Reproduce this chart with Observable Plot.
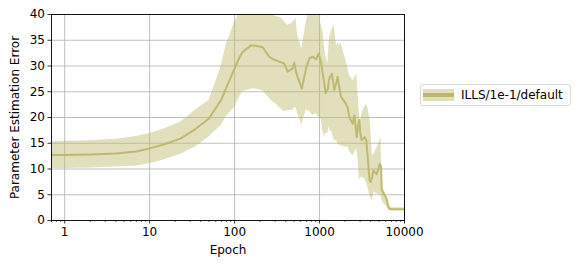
<!DOCTYPE html>
<html>
<head>
<meta charset="utf-8">
<script src="https://cdn.jsdelivr.net/npm/d3@7"></script>
<script src="https://cdn.jsdelivr.net/npm/@observablehq/plot@0.6"></script>
<style>
  html, body { margin: 0; padding: 0; background: #fff; }
  #wrap { position: relative; width: 582px; height: 267px; font-family: "DejaVu Sans", sans-serif; }
  #legend { position: absolute; left: 420px; top: 84px; width: 151px; height: 22px; border: 1px solid #d8d8d8; border-radius: 3px; background: #fff; box-sizing: border-box; }
  #legend .sw { position: absolute; left: 2px; top: 4px; width: 31px; height: 12px; }
  #legend .txt { position: absolute; left: 40px; top: 2px; font-size: 12px; line-height: 16px; color: #000; white-space: nowrap; }
</style>
</head>
<body>
<div id="wrap">
  <div id="chart"></div>
  <div id="legend"><svg class="sw" width="31" height="12"></svg><span class="txt"></span></div>
</div>
<script>
const seriesName = "ILLS/1e-1/default";
const xLabel = "Epoch";
const yLabel = "Parameter Estimation Error";
const xMajorTicks = [1, 10, 100, 1000, 10000];
const yTicks = [0, 5, 10, 15, 20, 25, 30, 35, 40];

const epoch = [0.7, 1, 2, 4, 7, 10, 15, 23, 35, 50, 70, 79, 100, 113, 124, 156, 170, 213, 256, 280, 307, 367, 384, 420, 480, 505, 527, 551, 619, 693, 760, 830, 907, 979, 1050, 1090, 1140, 1180, 1250, 1290, 1320, 1400, 1490, 1590, 1630, 1700, 1790, 2040, 2150, 2240, 2460, 2570, 2740, 2850, 2940, 3020, 3130, 3380, 3550, 3700, 3880, 3980, 4170, 4300, 4400, 4700, 5130, 5300, 5400, 5750, 6060, 6400, 6600, 7000, 10000];
const meanErr = [12.7, 12.7, 12.8, 13.0, 13.4, 14.0, 14.8, 15.9, 17.8, 19.8, 23.5, 25.6, 29.5, 31.5, 32.7, 34.0, 34.0, 33.7, 31.8, 31.4, 31.1, 30.6, 30.5, 28.9, 29.5, 30.6, 29.0, 27.9, 25.6, 29.5, 31.5, 31.8, 31.3, 32.4, 30.5, 28.5, 26.5, 24.7, 25.5, 27.2, 27.8, 28.5, 25.3, 27.0, 27.9, 26.0, 24.0, 22.7, 21.8, 20.1, 18.8, 20.4, 16.2, 18.5, 19.5, 17.0, 15.6, 16.2, 15.6, 12.0, 7.8, 7.5, 8.5, 9.7, 9.5, 9.0, 11.0, 10.5, 6.0, 5.0, 4.5, 3.0, 2.3, 2.2, 2.2];
const upperErr = [15.3, 15.4, 15.5, 15.8, 16.3, 16.9, 17.8, 19.1, 21.5, 23.3, 30.0, 34.0, 38.5, 40.2, 42, 42.5, 42.5, 42.5, 41.5, 39.9, 39.6, 39.2, 38.6, 37.9, 38.3, 38.8, 39.2, 36.0, 33.4, 38.3, 41, 42, 42, 41, 37.6, 37.0, 34, 32, 30.5, 34, 35.7, 37, 37.9, 33.7, 34.5, 34.0, 34.4, 31.1, 29.5, 28.2, 27.2, 27.5, 28.5, 24.0, 21, 18.8, 20.5, 22.0, 22.5, 22.0, 20, 18.8, 13, 12.5, 13, 14, 15.5, 16.2, 6.5, 5.8, 5.2, 3.5, 2.6, 2.5, 2.5];
const lowerErr = [10.1, 10.1, 10.2, 10.4, 10.6, 11.0, 11.8, 12.8, 14.3, 16.2, 18.5, 20.1, 22.0, 23.8, 25.0, 25.5, 25.6, 25.2, 23.8, 23.0, 22.6, 21.4, 21.1, 21.3, 21.4, 21.8, 22.0, 20.8, 18.5, 21.4, 21.2, 20.4, 20.8, 20.1, 19.5, 17.5, 16.2, 17, 16.9, 18.2, 17.5, 17.2, 15.6, 15.5, 15.0, 14.6, 14.5, 14.2, 14.3, 13.5, 12.6, 13.0, 14.0, 11.7, 7.8, 8.2, 8.5, 8.1, 7.5, 6.5, 5.0, 4.5, 3.9, 5.0, 5.5, 5.2, 5.0, 4.9, 4.0, 3.2, 2.8, 2.3, 2.0, 1.9, 1.9];

const lineColor = "#bdb76b";
const data = epoch.map((e, i) => ({epoch: e, mean: meanErr[i], lower: lowerErr[i], upper: upperErr[i]}));

// minor ticks for the log axis
const xMinorTicks = [];
for (let p = -1; p <= 3; p++) for (let m = 2; m <= 9; m++) {
  const v = m * Math.pow(10, p);
  if (v >= 0.7 && v <= 10000) xMinorTicks.push(+v.toPrecision(3));
}

const chart = Plot.plot({
  width: 582,
  height: 267,
  marginLeft: 51,
  marginRight: 178,
  marginTop: 14,
  marginBottom: 47,
  style: {fontFamily: "DejaVu Sans, sans-serif", fontSize: "12px", color: "#000", background: "transparent"},
  x: {type: "log", domain: [0.7, 10000]},
  y: {domain: [0, 40]},
  marks: [
    Plot.gridX(xMajorTicks, {stroke: "#b0b0b0", strokeOpacity: 1, strokeWidth: 0.8}),
    Plot.gridY(yTicks, {stroke: "#b0b0b0", strokeOpacity: 1, strokeWidth: 0.8}),
    Plot.areaY(data, {x: "epoch", y1: "lower", y2: "upper", fill: lineColor, fillOpacity: 0.45, clip: true}),
    Plot.lineY(data, {x: "epoch", y: "mean", stroke: lineColor, strokeWidth: 2, strokeOpacity: 0.95, clip: true}),
    Plot.frame({stroke: "#000", strokeWidth: 0.9}),
    Plot.axisX(xMinorTicks, {tickSize: 2, text: null, label: null, stroke: "#000", strokeWidth: 0.6}),
    Plot.axisX(xMajorTicks, {tickSize: 3.5, tickPadding: 3, tickFormat: d => String(d), label: null, stroke: "#000", strokeWidth: 0.8}),
    Plot.axisY(yTicks, {tickSize: 3.5, tickPadding: 3, tickFormat: d => String(d), label: null, stroke: "#000", strokeWidth: 0.8}),
    Plot.text([xLabel], {frameAnchor: "bottom", dy: 30, lineAnchor: "middle", textAnchor: "middle", fontSize: 12, fill: "#000"}),
    Plot.text([yLabel], {frameAnchor: "left", dx: -36, rotate: -90, lineAnchor: "middle", textAnchor: "middle", fontSize: 12, fill: "#000"})
  ]
});
document.getElementById("chart").appendChild(chart);

// legend
document.querySelector("#legend .txt").textContent = seriesName;
const sw = d3.select("#legend .sw");
sw.append("rect").attr("x", 0).attr("y", 0).attr("width", 31).attr("height", 12).attr("fill", lineColor).attr("fill-opacity", 0.45);
sw.append("line").attr("x1", 0).attr("x2", 31).attr("y1", 6).attr("y2", 6).attr("stroke", lineColor).attr("stroke-width", 4);
</script>
</body>
</html>
